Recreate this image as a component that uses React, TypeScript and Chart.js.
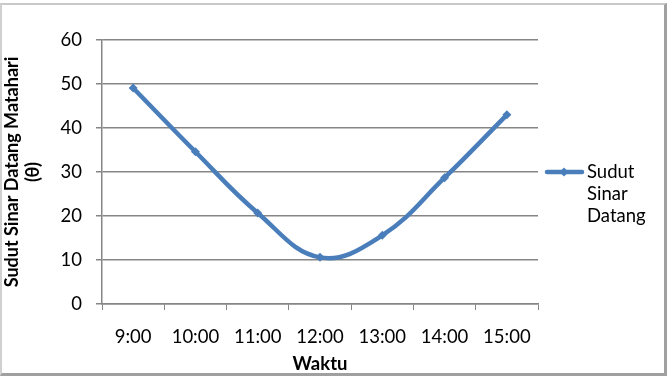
import React, { useEffect, useRef } from "react";
import { Chart, registerables } from "chart.js";

Chart.register(...registerables);

const categories = ["9:00", "10:00", "11:00", "12:00", "13:00", "14:00", "15:00"];
const seriesValues = [49.1, 34.6, 20.7, 10.6, 15.6, 28.7, 43.0];
const seriesName = ["Sudut", "Sinar", "Datang"];
const yTitle = ["Sudut Sinar Datang Matahari", "(θ)"];
const xTitle = "Waktu";

const FONT = "Lato, 'Noto Sans', sans-serif";
const LINE = "#4a7ebb";
const FS = 18.5;

const legendPlugin = {
  id: "sideLegend",
  afterDraw(chart: any) {
    const ctx = chart.ctx;
    const area = chart.chartArea;
    const x0 = area.right + 7;
    const y0 = (area.top + area.bottom) / 2;
    ctx.save();
    ctx.strokeStyle = LINE;
    ctx.lineWidth = 4.5;
    ctx.lineCap = "round";
    ctx.beginPath();
    ctx.moveTo(x0 + 2, y0);
    ctx.lineTo(x0 + 37, y0);
    ctx.stroke();
    ctx.fillStyle = LINE;
    ctx.beginPath();
    const cx = x0 + 19;
    ctx.moveTo(cx, y0 - 4.5);
    ctx.lineTo(cx + 4.5, y0);
    ctx.lineTo(cx, y0 + 4.5);
    ctx.lineTo(cx - 4.5, y0);
    ctx.closePath();
    ctx.fill();
    ctx.fillStyle = "#000";
    ctx.font = FS + "px " + FONT;
    ctx.textBaseline = "middle";
    ctx.textAlign = "left";
    seriesName.forEach((t, i) => ctx.fillText(t, x0 + 42, y0 + i * 22));
    ctx.restore();
  },
};

export default function App() {
  const ref = useRef<HTMLCanvasElement | null>(null);
  useEffect(() => {
    document.body.style.margin = "0";
    const chart = new Chart(ref.current!, {
      type: "line",
      data: {
        labels: categories,
        datasets: [
          {
            label: seriesName.join(" "),
            data: seriesValues,
            borderColor: LINE,
            backgroundColor: LINE,
            borderWidth: 4.5,
            tension: 0.4,
            pointStyle: "rectRot",
            pointRadius: 4.5,
            pointBorderWidth: 0,
            fill: false,
          },
        ],
      },
      options: {
        animation: false,
        responsive: false,
        layout: { padding: { left: 2, right: 133, top: 40, bottom: 1 } },
        plugins: { legend: { display: false }, tooltip: { enabled: false } },
        scales: {
          x: {
            offset: true,
            grid: {
              offset: true,
              drawOnChartArea: false,
              drawTicks: true,
              tickLength: 6,
              color: "#868686",
            },
            border: { color: "#868686", width: 1.5 },
            ticks: { color: "#000", font: { family: FONT, size: FS }, padding: 16, maxRotation: 0 },
            title: {
              display: true,
              text: xTitle,
              color: "#000",
              font: { family: FONT, size: FS, weight: "bold" },
              padding: { top: 0, bottom: 0 },
            },
            afterFit(s: any) {
              s.height = 376 - 304 - 1;
            },
          },
          y: {
            min: 0,
            max: 60,
            ticks: { stepSize: 10, color: "#000", font: { family: FONT, size: FS }, padding: 14 },
            grid: { color: "#868686", lineWidth: 1.5, tickLength: 6 },
            border: { color: "#868686", width: 1.5 },
            title: {
              display: true,
              text: yTitle,
              color: "#000",
              font: { family: FONT, size: 18, weight: "bold", lineHeight: 1.15 },
              padding: { top: 0, bottom: 0 },
            },
            afterFit(s: any) {
              s.width = 102 - 2;
            },
          },
        },
      },
      plugins: [legendPlugin],
    });
    return () => chart.destroy();
  }, []);
  return (
    <div style={{ position: "relative", width: 671, height: 376, background: "#fff" }}>
      <canvas ref={ref} width={671} height={376} style={{ display: "block" }} />
      <div
        style={{
          position: "absolute",
          left: 0,
          top: 3,
          width: 662,
          height: 368,
          borderTop: "2px solid #c8c8c8",
          borderLeft: "2px solid #d0d0d0",
          borderRight: "3px solid #a0a0a0",
          borderBottom: "3px solid #a0a0a0",
          pointerEvents: "none",
        }}
      />
    </div>
  );
}
